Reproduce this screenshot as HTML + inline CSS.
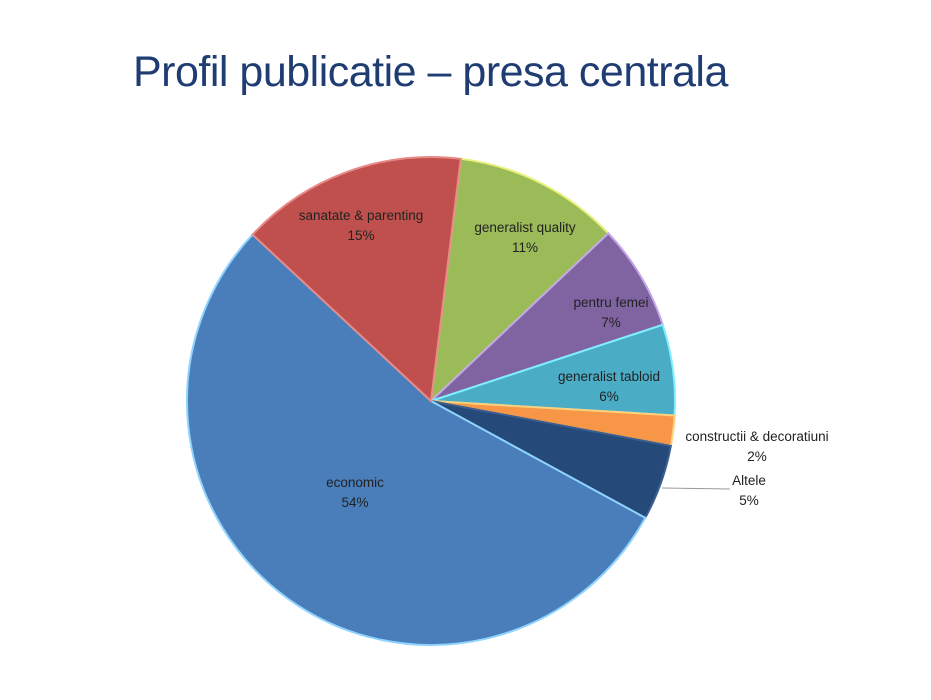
<!DOCTYPE html>
<html><head><meta charset="utf-8"><style>
body{margin:0;background:#fff;width:931px;height:700px;overflow:hidden;font-family:"Liberation Sans",sans-serif}
#title{position:absolute;left:133px;top:48px;font-size:43px;color:#1f3d73;letter-spacing:-0.5px;white-space:nowrap}
svg{position:absolute;left:0;top:0}
</style></head><body>
<div id="title">Profil publicatie – presa centrala</div>
<svg id="chart" width="931" height="700"></svg>
<script>
const categories=["generalist quality","pentru femei","generalist tabloid","constructii & decoratiuni","Altele","economic","sanatate & parenting"];
const values=[11,7,6,2,5,54,15];
const fills=["#9bbb59","#8064a2","#4bacc6","#f79646","#254a7a","#4a7ebb","#c0504d"];
const strokes=["#e8f07a","#c3a8e8","#7fefff","#ffd07a","#3b5f8f","#8fd4ff","#e88a88"];
const labelPos=[[525,232],[611,307],[609,381],[757,441],[749,485],[355,487],[361,220]];
const cx=431,cy=401,r=244,start=7;
const svg=document.getElementById('chart');
const NS="http://www.w3.org/2000/svg";
const total=values.reduce((a,b)=>a+b,0);
function pt(a,rr){const t=(a-90)*Math.PI/180;return [cx+rr*Math.cos(t),cy+rr*Math.sin(t)];}
let a=start;
values.forEach((v,i)=>{
  const span=v/total*360,b=a+span;
  const p1=pt(a,r),p2=pt(b,r);
  const path=document.createElementNS(NS,'path');
  path.setAttribute('d',`M${cx},${cy}L${p1[0]},${p1[1]}A${r},${r} 0 ${span>180?1:0} 1 ${p2[0]},${p2[1]}Z`);
  path.setAttribute('fill',fills[i]);path.setAttribute('stroke',strokes[i]);path.setAttribute('stroke-width','2');
  
  
  svg.appendChild(path);
  a=b;
});
values.forEach((v,i)=>{
  const [x,y]=labelPos[i];
  const g=document.createElementNS(NS,'text');
  
  
  g.setAttribute('x',x);g.setAttribute('y',y);g.setAttribute('text-anchor','middle');
  g.setAttribute('font-size','13.5');g.setAttribute('fill','#222');
  g.setAttribute('font-family','Liberation Sans, sans-serif');
  const t1=document.createElementNS(NS,'tspan');t1.setAttribute('x',x);t1.textContent=categories[i];
  const t2=document.createElementNS(NS,'tspan');t2.setAttribute('x',x);t2.setAttribute('dy','20');t2.textContent=v+'%';
  g.appendChild(t1);g.appendChild(t2);svg.appendChild(g);
});
const ln=document.createElementNS(NS,'line');


ln.setAttribute('x1',662);ln.setAttribute('y1',488);ln.setAttribute('x2',730);ln.setAttribute('y2',489);
ln.setAttribute('stroke','#999');ln.setAttribute('stroke-width','1');
svg.appendChild(ln);
</script>
</body></html>
